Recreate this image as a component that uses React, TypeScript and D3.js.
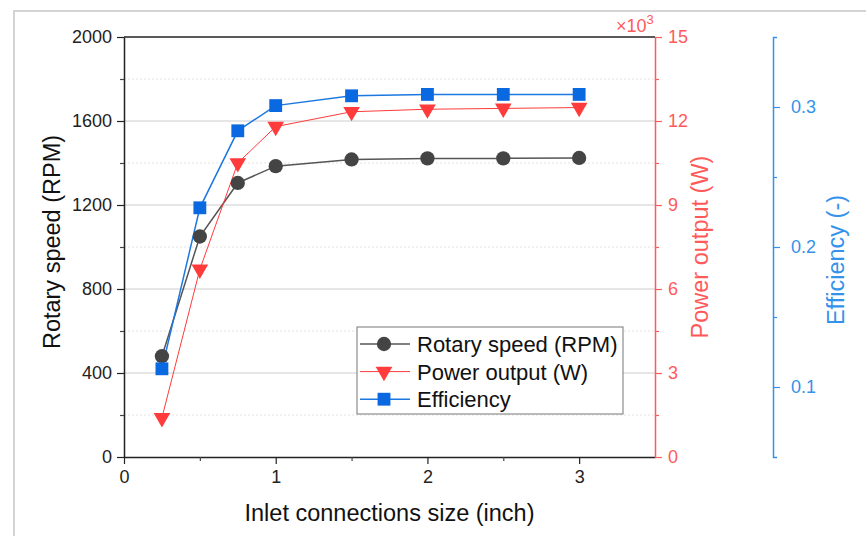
import React, { useEffect, useRef } from "react";
import * as d3 from "d3";

const width = 866;
const height = 536;

// data
const inletSize = [0.25, 0.5, 0.75, 1, 1.5, 2, 2.5, 3];
const rotarySpeed = [480, 1050, 1305, 1385, 1417, 1422, 1422, 1424];
const powerOutput = [1.4, 6.7, 10.5, 11.8, 12.33, 12.42, 12.45, 12.48]; // x10^3 W
const efficiency = [0.113, 0.228, 0.283, 0.301, 0.308, 0.309, 0.309, 0.309];

const xTicks = [0, 1, 2, 3];
const xMinor = [0.5, 1.5, 2.5];
const speedTicks = [0, 400, 800, 1200, 1600, 2000];
const speedMinor = [200, 600, 1000, 1400, 1800];
const powerTicks = [0, 3, 6, 9, 12, 15];
const powerMinor = [1.5, 4.5, 7.5, 10.5, 13.5];
const effTicks = [0.1, 0.2, 0.3];
const effMinor = [0.15, 0.25];

const legendLabels = ["Rotary speed (RPM)", "Power output (W)", "Efficiency"];

const font = "'Liberation Sans', Arial, sans-serif";
const black = "#444444";
const red = "#ff3b3b";
const redAxis = "#ff5a5a";
const blue = "#1a78e0";
const blueMarker = "#0a68e0";
const blueAxis = "#3592ea";

const App = () => {
  const ref = useRef<SVGSVGElement>(null);

  useEffect(() => {
    const svg = d3.select(ref.current);
    svg.selectAll("*").remove();

    const left = 124,
      right = 655,
      top = 37,
      bottom = 457;

    const x = d3.scaleLinear().domain([0, 3.5]).range([left, right]);
    const ySpeed = d3.scaleLinear().domain([0, 2000]).range([bottom, top]);
    const yPower = d3.scaleLinear().domain([0, 15]).range([bottom, top]);
    const yEff = d3.scaleLinear().domain([0.05, 0.35]).range([bottom, top]);

    // page frame
    svg
      .append("path")
      .attr("d", `M14,${height} L14,11 L${width},11`)
      .attr("fill", "none")
      .attr("stroke", "#d4d4d4")
      .attr("stroke-width", 2);

    // grid
    const grid = svg.append("g");
    grid
      .selectAll("line.major")
      .data(speedTicks.slice(1, -1))
      .enter()
      .append("line")
      .attr("x1", left)
      .attr("x2", right)
      .attr("y1", (d) => ySpeed(d))
      .attr("y2", (d) => ySpeed(d))
      .attr("stroke", "#cccccc")
      .attr("stroke-width", 1);
    grid
      .selectAll("line.minor")
      .data(speedMinor)
      .enter()
      .append("line")
      .attr("x1", left)
      .attr("x2", right)
      .attr("y1", (d) => ySpeed(d))
      .attr("y2", (d) => ySpeed(d))
      .attr("stroke", "#e2e2e2")
      .attr("stroke-dasharray", "2,2")
      .attr("stroke-width", 1);

    // top frame line
    svg
      .append("line")
      .attr("x1", left)
      .attr("x2", right)
      .attr("y1", top)
      .attr("y2", top)
      .attr("stroke", "#222")
      .attr("stroke-width", 1.5);

    const styleAxis = (g: any, color: string) => {
      g.selectAll("path").attr("stroke", color).attr("stroke-width", 1.5);
      g.selectAll("line").attr("stroke", color).attr("stroke-width", 1.2);
      g.selectAll("text")
        .attr("fill", color)
        .style("font-family", font)
        .style("font-size", "18px");
    };

    // x axis
    const gx = svg
      .append("g")
      .attr("transform", `translate(0,${bottom})`)
      .call(
        d3.axisBottom(x).tickValues(xTicks).tickSize(7).tickSizeOuter(0).tickPadding(6).tickFormat(d3.format("d"))
      );
    styleAxis(gx, "#222");
    const gxm = svg
      .append("g")
      .attr("transform", `translate(0,${bottom})`)
      .call(d3.axisBottom(x).tickValues(xMinor).tickSize(4).tickSizeOuter(0).tickFormat(() => ""));
    gxm.select("path").remove();
    styleAxis(gxm, "#444");

    // left axis
    const gy = svg
      .append("g")
      .attr("transform", `translate(${left},0)`)
      .call(
        d3.axisLeft(ySpeed).tickValues(speedTicks).tickSize(7).tickSizeOuter(0).tickPadding(5).tickFormat(d3.format("d"))
      );
    styleAxis(gy, "#222");
    const gym = svg
      .append("g")
      .attr("transform", `translate(${left},0)`)
      .call(d3.axisLeft(ySpeed).tickValues(speedMinor).tickSize(4).tickFormat(() => ""));
    gym.select("path").remove();
    styleAxis(gym, "#444");

    // red axis
    const gp = svg
      .append("g")
      .attr("transform", `translate(${right},0)`)
      .call(
        d3.axisRight(yPower).tickValues(powerTicks).tickSize(7).tickSizeOuter(0).tickPadding(6).tickFormat(d3.format("d"))
      );
    styleAxis(gp, redAxis);
    const gpm = svg
      .append("g")
      .attr("transform", `translate(${right},0)`)
      .call(d3.axisRight(yPower).tickValues(powerMinor).tickSize(4).tickFormat(() => ""));
    gpm.select("path").remove();
    styleAxis(gpm, redAxis);

    // blue axis
    const blueX = 773;
    const ge = svg
      .append("g")
      .attr("transform", `translate(${blueX},0)`)
      .call(
        d3.axisRight(yEff).tickValues(effTicks).tickSize(7).tickSizeOuter(4).tickPadding(11).tickFormat(d3.format(".1f"))
      );
    styleAxis(ge, blueAxis);
    const gem = svg
      .append("g")
      .attr("transform", `translate(${blueX},0)`)
      .call(d3.axisRight(yEff).tickValues(effMinor).tickSize(4).tickFormat(() => ""));
    gem.select("path").remove();
    styleAxis(gem, blueAxis);

    // x10^3 label
    const mult = svg
      .append("text")
      .attr("x", 616)
      .attr("y", 32)
      .attr("fill", redAxis)
      .style("font-family", font)
      .style("font-size", "18px");
    mult.append("tspan").text("×10");
    mult.append("tspan").attr("dy", -8).style("font-size", "13px").text("3");

    // axis titles
    const title = (t: string, tx: number, ty: number, rot: number, color: string) =>
      svg
        .append("text")
        .attr("transform", `translate(${tx},${ty}) rotate(${rot})`)
        .attr("text-anchor", "middle")
        .attr("fill", color)
        .style("font-family", font)
        .style("font-size", "23.5px")
        .text(t);
    title("Inlet connections size (inch)", (left + right) / 2, 521, 0, "#111");
    title("Rotary speed (RPM)", 60, 242, -90, "#111");
    title("Power output (W)", 708, 247, -90, redAxis);
    title("Efficiency (-)", 844, 260, -90, blueAxis);

    // series
    const idx = d3.range(inletSize.length);
    const drawLine = (vals: number[], y: any, color: string, w: number) =>
      svg
        .append("path")
        .datum(idx)
        .attr("fill", "none")
        .attr("stroke", color)
        .attr("stroke-width", w)
        .attr("d", d3.line<number>().x((i) => x(inletSize[i])).y((i) => y(vals[i])));

    drawLine(rotarySpeed, ySpeed, "#555", 1.5);
    drawLine(powerOutput, yPower, red, 1);
    drawLine(efficiency, yEff, blue, 1.5);

    const circle = d3.symbol().type(d3.symbolCircle).size(160);
    const tri = d3.symbol().type(d3.symbolTriangle).size(120);
    const square = d3.symbol().type(d3.symbolSquare).size(165);

    svg
      .append("g")
      .selectAll("path")
      .data(idx)
      .enter()
      .append("path")
      .attr("transform", (i) => `translate(${x(inletSize[i])},${ySpeed(rotarySpeed[i])})`)
      .attr("d", circle)
      .attr("fill", black);

    svg
      .append("g")
      .selectAll("path")
      .data(idx)
      .enter()
      .append("path")
      .attr("transform", (i) => `translate(${x(inletSize[i])},${yPower(powerOutput[i])}) rotate(180)`)
      .attr("d", tri)
      .attr("fill", red);

    svg
      .append("g")
      .selectAll("path")
      .data(idx)
      .enter()
      .append("path")
      .attr("transform", (i) => `translate(${x(inletSize[i])},${yEff(efficiency[i])})`)
      .attr("d", square)
      .attr("fill", blueMarker);

    // legend
    const lx = 357,
      ly = 327,
      lw = 266,
      lh = 87;
    const lg = svg.append("g");
    lg.append("rect")
      .attr("x", lx)
      .attr("y", ly)
      .attr("width", lw)
      .attr("height", lh)
      .attr("fill", "white")
      .attr("stroke", "#777")
      .attr("stroke-width", 1);

    const legColors = ["#555", red, blue];
    const legMarks = [circle, tri, square];
    const legFill = [black, red, blueMarker];
    legendLabels.forEach((lab, i) => {
      const cy = 344 + i * 27.6;
      lg.append("line")
        .attr("x1", lx + 3)
        .attr("x2", 410)
        .attr("y1", cy)
        .attr("y2", cy)
        .attr("stroke", legColors[i])
        .attr("stroke-width", i === 1 ? 1 : 1.5);
      lg.append("path")
        .attr("transform", `translate(384,${cy})${i === 1 ? " rotate(180)" : ""}`)
        .attr("d", legMarks[i])
        .attr("fill", legFill[i]);
      lg.append("text")
        .attr("x", 417)
        .attr("y", cy + 8)
        .attr("fill", "#111")
        .style("font-family", font)
        .style("font-size", "22px")
        .text(lab);
    });
  }, []);

  return (
    <svg
      ref={ref}
      width={width}
      height={height}
      style={{ position: "absolute", left: 0, top: 0, background: "white" }}
    />
  );
};

export default App;
